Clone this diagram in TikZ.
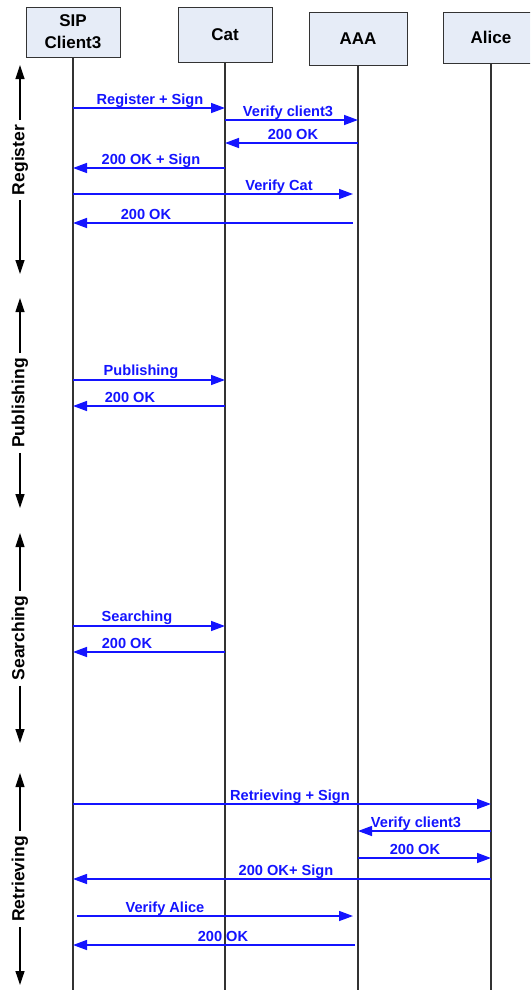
\documentclass[tikz,border=0pt]{standalone}
\usepackage{fontspec}
\setmainfont{Liberation Sans}
\usetikzlibrary{arrows.meta}
\definecolor{boxfill}{HTML}{E6ECF7}
\definecolor{msgblue}{RGB}{20,20,255}
\definecolor{lifegray}{HTML}{333333}
\begin{document}
\begin{tikzpicture}[x=1pt,y=-1pt,
  actor/.style={draw=lifegray, line width=0.9pt, fill=boxfill, inner sep=0pt, align=center,
    font=\fontsize{17}{22}\selectfont\bfseries},
  life/.style={draw=lifegray, line width=1.1pt},
  msg/.style={draw=msgblue, line width=1.4pt, -{Triangle[length=14pt,width=10pt]}},
  mlabel/.style={text=msgblue, font=\fontsize{14.6}{16}\selectfont\bfseries, anchor=base, inner sep=0pt},
  phase/.style={rotate=90, font=\fontsize{17.5}{20}\selectfont\bfseries, inner sep=5pt},
  phasearrow/.style={draw=black, line width=1.2pt, -{Triangle[length=14pt,width=9pt]}}
]
\clip (0,0) rectangle (530,990);
\fill[white] (0,0) rectangle (530,990);

% actors
\node[actor, minimum width=94pt, minimum height=50pt] (sip) at (73,32) {SIP\\Client3};
\node[actor, minimum width=94pt, minimum height=55pt] (cat) at (225,34.5) {Cat};
\node[actor, minimum width=98pt, minimum height=53pt] (aaa) at (358,38.5) {AAA};
\node[actor, minimum width=96pt, minimum height=51pt] (alice) at (491,37.5) {Alice};

% lifeline ends
\coordinate (sipend) at (73,990);
\coordinate (catend) at (225,990);
\coordinate (aaaend) at (358,990);
\coordinate (aliceend) at (491,990);
\draw[life] (sip.south) -- (sipend);
\draw[life] (cat.south) -- (catend);
\draw[life] (aaa.south) -- (aaaend);
\draw[life] (alice.south) -- (aliceend);

% Register phase
\draw[msg] (sip |- 0,108) -- (cat |- 0,108);
\node[mlabel] (m1) at (150,104) {Register + Sign};
\draw[msg] (cat |- 0,120) -- (aaa |- 0,120);
\node[mlabel] (m2) at (288,116) {Verify client3};
\draw[msg] (aaa |- 0,143) -- (cat |- 0,143);
\node[mlabel] (m3) at (293,139) {200 OK};
\draw[msg] (cat |- 0,168) -- (sip |- 0,168);
\node[mlabel] (m4) at (151,164) {200 OK + Sign};
\draw[msg, shorten >=5pt] (sip |- 0,194) -- (aaa |- 0,194);
\node[mlabel] (m5) at (279,190) {Verify Cat};
\draw[msg, shorten <=5pt] (aaa |- 0,223) -- (sip |- 0,223);
\node[mlabel] (m6) at (146,219) {200 OK};

% Publishing phase
\draw[msg] (sip |- 0,380) -- (cat |- 0,380);
\node[mlabel] (m7) at (141,375) {Publishing};
\draw[msg] (cat |- 0,406) -- (sip |- 0,406);
\node[mlabel] (m8) at (130,402) {200 OK};

% Searching phase
\draw[msg] (sip |- 0,626) -- (cat |- 0,626);
\node[mlabel] (m9) at (137,621) {Searching};
\draw[msg] (cat |- 0,652) -- (sip |- 0,652);
\node[mlabel] (m10) at (127,648) {200 OK};

% Retrieving phase
\draw[msg] (sip |- 0,804) -- (alice |- 0,804);
\node[mlabel] (m11) at (290,800) {Retrieving + Sign};
\draw[msg] (alice |- 0,831) -- (aaa |- 0,831);
\node[mlabel] (m12) at (416,827) {Verify client3};
\draw[msg] (aaa |- 0,858) -- (alice |- 0,858);
\node[mlabel] (m13) at (415,854) {200 OK};
\draw[msg] (alice |- 0,879) -- (sip |- 0,879);
\node[mlabel] (m14) at (286,875) {200 OK+ Sign};
\draw[msg, shorten <=4pt, shorten >=5pt] (sip |- 0,916) -- (aaa |- 0,916);
\node[mlabel] (m15) at (165,912) {Verify Alice};
\draw[msg, shorten <=3pt] (aaa |- 0,945) -- (sip |- 0,945);
\node[mlabel] (m16) at (223,941) {200 OK};

% phase markers
\node[phase] (pReg) at (20,160) {Register};
\coordinate (pRegTop) at (20,65);
\coordinate (pRegBot) at (20,274);
\draw[phasearrow] (pReg) -- (pRegTop);
\draw[phasearrow] (pReg) -- (pRegBot);

\node[phase] (pPub) at (20,403) {Publishing};
\coordinate (pPubTop) at (20,298);
\coordinate (pPubBot) at (20,508);
\draw[phasearrow] (pPub) -- (pPubTop);
\draw[phasearrow] (pPub) -- (pPubBot);

\node[phase] (pSea) at (20,638) {Searching};
\coordinate (pSeaTop) at (20,533);
\coordinate (pSeaBot) at (20,743);
\draw[phasearrow] (pSea) -- (pSeaTop);
\draw[phasearrow] (pSea) -- (pSeaBot);

\node[phase] (pRet) at (20,879) {Retrieving};
\coordinate (pRetTop) at (20,773);
\coordinate (pRetBot) at (20,985);
\draw[phasearrow] (pRet) -- (pRetTop);
\draw[phasearrow] (pRet) -- (pRetBot);
\end{tikzpicture}
\end{document}
